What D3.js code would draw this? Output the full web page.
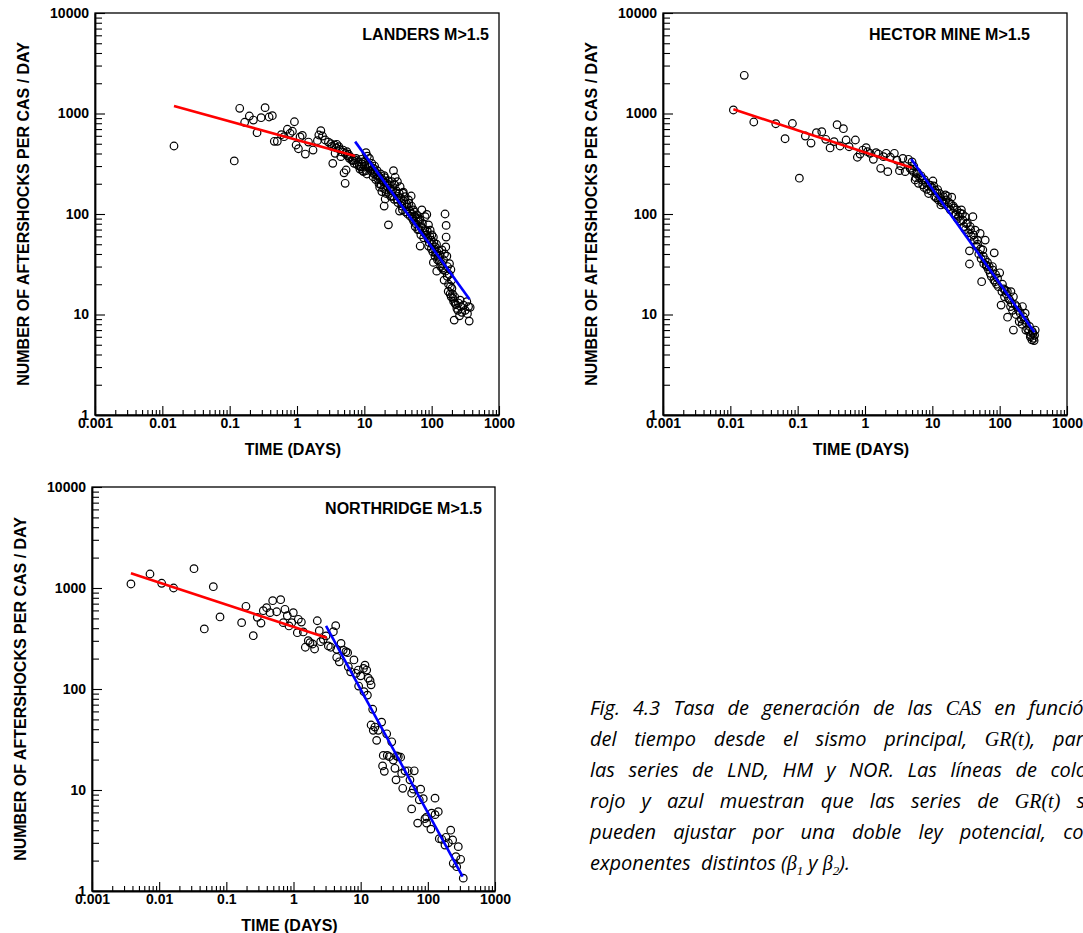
<!DOCTYPE html>
<html>
<head>
<meta charset="utf-8">
<script src="https://cdn.jsdelivr.net/npm/d3@7"></script>
<style>
  body { margin: 0; background: #fff; }
  svg { display: block; }
  .axis text { font-family: "Liberation Sans", Arial, sans-serif; font-weight: bold; font-size: 14px; fill: #000; }
  .axis path, .axis line { stroke: #000; }
  .axis-title, .panel-title { font-family: "Liberation Sans", Arial, sans-serif; font-weight: bold; font-size: 16px; }
  .caption { font-family: "Open Sans", sans-serif; font-style: italic; font-size: 20px; white-space: pre; }
  .caption .math { font-family: "Liberation Serif", "DejaVu Serif", serif; font-style: italic; }
</style>
</head>
<body>
<svg id="chart" width="1083" height="933"></svg>
<script>
// axis ticks shared by the three panels
const xTicks = [0.001, 0.01, 0.1, 1, 10, 100, 1000];
const xTickLabels = ["0.001", "0.01", "0.1", "1", "10", "100", "1000"];
const yTicks = [1, 10, 100, 1000, 10000];
const yTickLabels = ["1", "10", "100", "1000", "10000"];

// Landers M>1.5 : [time (days), aftershocks per CAS per day]
const landersPoints = [
  [0.0149, 475], [0.117, 337], [0.141, 1127], [0.167, 818], [0.196, 944], [0.225, 861], [0.255, 644],
  [0.293, 908], [0.336, 1143], [0.385, 923], [0.43, 951], [0.46, 529], [0.51, 529], [0.586, 615],
  [0.643, 588], [0.72, 697], [0.79, 635], [0.855, 666], [0.916, 828], [0.97, 486], [1.05, 446],
  [1.11, 584], [1.2, 606], [1.33, 395], [1.48, 520], [1.73, 433], [2.01, 537], [2.11, 611], [2.26, 674],
  [2.39, 597], [2.62, 545], [2.93, 520], [3.18, 500], [3.3, 470], [3.4, 319], [3.6, 486], [3.68, 402],
  [3.8, 455], [3.9, 494], [4.18, 467], [4.3, 440], [4.47, 372], [4.6, 415], [4.84, 433], [5.0, 257],
  [5.19, 202], [5.2, 400], [5.36, 274], [5.5, 417], [5.6, 380], [5.81, 393], [6.0, 358], [6.2, 370],
  [6.52, 344], [6.8, 340], [7.05, 319], [7.3, 345], [7.55, 358], [7.8, 310], [8.17, 331], [8.4, 300],
  [8.6, 280], [8.96, 295], [9.0, 350], [9.2, 315], [9.4, 270], [9.7, 331], [9.7, 264], [10.1, 300],
  [10.3, 330], [10.6, 408], [10.6, 270], [10.9, 250], [11.1, 377], [11.3, 310], [11.5, 290], [11.9, 358],
  [12.2, 300], [12.5, 270], [12.9, 319], [13.2, 260], [13.5, 235], [13.7, 284], [14, 250], [14.2, 300],
  [14.5, 264], [14.8, 220], [15.3, 244], [15.5, 270], [15.8, 225], [16.2, 240], [16.5, 200], [16.9, 185],
  [17.2, 226], [17.5, 250], [17.8, 195], [18.2, 167], [18.6, 220], [19, 210], [19.3, 180], [19.7, 241],
  [19.7, 120], [20.1, 230], [20.4, 141], [20.8, 175], [21.1, 160], [21.6, 202], [22, 190], [22.5, 215],
  [22.8, 78], [23, 160], [23.5, 195], [24.2, 180], [24.6, 150], [25, 170], [25.7, 210], [26, 150],
  [26.5, 175], [27.1, 270], [27.8, 140], [28.2, 195], [28.7, 232], [29.5, 160], [30, 170], [30.5, 140],
  [31.0, 210], [31.5, 130], [32, 150], [33, 160], [33.3, 107], [34.0, 187], [34.5, 145], [35.5, 130],
  [36, 120], [36.8, 110], [37.3, 161], [38, 165], [38.5, 135], [39.5, 125], [40.4, 149], [41, 105],
  [42, 118], [43, 125], [44, 100], [45.3, 138], [46, 128], [47, 108], [48, 95], [49.6, 151], [50, 120],
  [51, 100], [52, 90], [53.7, 110], [54, 85], [55, 105], [56, 95], [57, 75], [58, 80], [59, 92],
  [60.3, 98], [62, 70], [63, 85], [65, 70], [66, 90], [67.5, 87], [67.5, 48], [69, 62], [70, 75],
  [71.5, 110], [73, 80], [74, 72], [76, 58], [78, 65], [79, 70], [80, 94], [83, 62], [84.7, 99], [86, 68],
  [88, 57], [89.7, 78], [90, 48], [92, 52], [94, 60], [95, 69], [98, 55], [99, 45], [100.7, 62],
  [102, 50], [104, 42], [106, 59], [106, 33], [108, 52], [110, 45], [112, 38], [113, 47], [116, 40],
  [118, 50], [119, 42], [119, 27], [122, 35], [125, 38], [128, 43], [130, 34], [134, 39], [136, 30],
  [140, 32], [142, 44], [145, 29], [148, 28], [150, 35], [153, 22], [155, 40], [158, 100], [160, 27],
  [162, 47], [164, 77], [164, 59], [168, 38], [170, 24], [172, 30], [176, 17], [178, 20], [182, 25],
  [184, 32], [188, 16], [190, 19], [193, 28], [195, 15], [198, 22], [200, 18.2], [204, 16], [207, 14.5],
  [212, 13.5], [216, 8.8], [220, 15], [223, 12.9], [230, 12.5], [237, 11.5], [245, 11], [250, 13],
  [259, 9.7], [265, 13.9], [270, 12], [280, 10.5], [297, 12.4], [315, 11], [333, 13.4], [340, 10.2],
  [353, 12], [361, 8.6], [373, 11.8]
];
const landersFitEarly = [[0.0149, 1188], [7.3, 378]];
const landersFitLate = [[7.3, 525], [365, 14.2]];

// Hector Mine M>1.5
const hectorPoints = [
  [0.0111, 1084], [0.0161, 2400], [0.0223, 823], [0.0473, 791], [0.065, 561], [0.0836, 795], [0.106, 227],
  [0.13, 597], [0.158, 508], [0.19, 644], [0.228, 659], [0.261, 554], [0.303, 454], [0.347, 525],
  [0.385, 774], [0.426, 475], [0.478, 706], [0.524, 545], [0.58, 467], [0.72, 545], [0.77, 367],
  [0.845, 395], [0.927, 433], [1.04, 457], [1.09, 417], [1.19, 402], [1.33, 350], [1.46, 408],
  [1.58, 395], [1.71, 285], [1.88, 372], [2.06, 402], [2.18, 264], [2.38, 367], [2.73, 402], [2.97, 344],
  [3.25, 270], [3.4, 301], [3.65, 358], [3.95, 264], [4.42, 350], [4.68, 285], [4.95, 274], [5.0, 330],
  [5.24, 264], [5.3, 300], [5.55, 218], [5.7, 230], [5.8, 250], [6.0, 260], [6.22, 202], [6.5, 230],
  [6.8, 240], [6.98, 218], [7.2, 195], [7.55, 184], [7.6, 220], [8.0, 205], [8.28, 176], [8.5, 190],
  [8.8, 160], [9.28, 194], [9.5, 170], [9.8, 185], [10.2, 213], [10.5, 190], [10.8, 150], [11.0, 173],
  [11.4, 145], [11.7, 161], [12, 175], [12.3, 138], [12.8, 160], [13, 145], [13.4, 123], [13.9, 130],
  [14.2, 135], [14.6, 149], [15.2, 125], [15.6, 155], [16.0, 138], [16.8, 150], [17.3, 118], [17.8, 130],
  [18.5, 110], [19, 125], [19.4, 147], [20.5, 120], [21, 115], [21.8, 98], [22.5, 100], [23.1, 110],
  [23.6, 90], [24.5, 95], [25.9, 102], [26.5, 85], [27, 110], [28, 100], [28.4, 87], [29.5, 75],
  [30.7, 94], [31, 70], [32, 80], [33.2, 81], [34.5, 65], [35.6, 31.8], [35.6, 43], [36.5, 75], [37, 70],
  [38, 60], [40, 94], [41, 62], [42, 55], [43.3, 69], [45, 48], [46.9, 55], [47, 50], [49, 40],
  [51.3, 64], [52, 45], [53, 36], [54, 21.2], [56.2, 44], [57, 38], [58, 32], [61, 35], [61, 55],
  [63, 31], [64.6, 30], [66, 33], [68, 28], [70, 30], [72.3, 25.7], [75, 24], [78, 30], [79.2, 27.7],
  [82, 22], [83, 41], [85.8, 21.2], [87, 25], [90, 20], [93, 23], [96, 18.9], [100, 26], [105, 12.4],
  [108, 16.9], [110, 20], [115, 18], [118, 15], [121, 17.5], [125, 16], [130, 17], [131, 9.4], [135, 14.5],
  [140, 14], [145, 12], [147, 16.9], [150, 13], [155, 11], [160, 15], [160, 7.0], [170, 12.5], [175, 10],
  [180, 12], [190, 11], [195, 8.5], [202, 10.3], [210, 9], [215, 8], [218, 12], [226, 9.5], [235, 8.8],
  [239, 10.3], [245, 7], [248, 8.2], [260, 7.2], [270, 6.8], [277, 7.6], [285, 6], [290, 6.2], [301, 5.6],
  [305, 6.8], [311, 6.5], [320, 5.8], [325, 5.5], [330, 6.2], [337, 7.0]
];
const hectorFitEarly = [[0.0111, 1101], [4.96, 289]];
const hectorFitLate = [[4.84, 353], [329, 6.65]];

// Northridge M>1.5
const northridgePoints = [
  [0.0038, 1096], [0.0073, 1376], [0.0109, 1114], [0.0164, 1000], [0.033, 1553], [0.047, 393],
  [0.064, 1030], [0.0805, 517], [0.169, 454], [0.196, 659], [0.252, 337], [0.289, 513], [0.328, 450],
  [0.355, 596], [0.398, 638], [0.447, 570], [0.49, 749], [0.562, 582], [0.644, 766], [0.705, 454],
  [0.746, 615], [0.809, 532], [0.857, 421], [0.94, 454], [0.993, 570], [1.14, 361], [1.18, 490],
  [1.31, 460], [1.4, 367], [1.5, 259], [1.66, 301], [1.76, 288], [1.93, 279], [2.06, 249], [2.26, 474],
  [2.42, 378], [2.54, 294], [2.78, 310], [3.05, 335], [3.3, 267], [3.58, 259], [3.92, 369], [4.25, 424],
  [4.4, 247], [4.4, 206], [4.81, 186], [5.1, 283], [5.5, 243], [6.04, 234], [6.4, 229], [6.55, 166],
  [7.1, 148], [7.94, 194], [8.51, 143], [9.22, 154], [9.33, 107], [10, 135], [11, 160], [11.2, 94],
  [11.6, 172], [12.3, 154], [12.6, 87], [13, 128], [13.8, 121], [14.3, 110], [14.3, 44], [15.1, 63],
  [15.4, 39], [16.3, 42], [17.3, 31], [18.3, 39], [20.5, 47], [21.2, 17.3], [21.7, 22], [22.5, 15.3],
  [24.4, 36], [24.9, 22], [26.7, 21.4], [29, 30], [30.6, 19.8], [32.4, 16.4], [33.6, 12.6], [34.4, 21.7],
  [36.3, 21.4], [39.4, 21.1], [40.8, 14.6], [42.3, 10.4], [45.7, 15.5], [51.2, 15.5], [54.2, 12.6],
  [57.4, 9.3], [57.4, 6.5], [60.8, 10.2], [62.8, 15.5], [70.6, 4.7], [74.6, 8.0], [78.2, 10.2],
  [85.5, 8.2], [90.7, 5.2], [96, 5.4], [96, 4.7], [111, 4.1], [114, 5.9], [128, 5.7], [128, 8.3],
  [143, 6.1], [148, 3.3], [161, 3.25], [180, 2.85], [186, 3.4], [202, 3.0], [219, 4.0], [234, 3.2],
  [239, 1.88], [262, 2.19], [269, 1.74], [284, 2.75], [308, 2.06], [337, 1.34]
];
const northridgeFitEarly = [[0.0038, 1399], [3.12, 322]];
const northridgeFitLate = [[3.05, 421], [330, 1.39]];

// caption: [text, kind]  kind 0 = body, 1 = math, 2 = subscript
const captionLines = [
  [["Fig. 4.3 Tasa de generación de las ", 0], ["CAS", 1], [" en función", 0]],
  [["del tiempo desde el sismo principal, ", 0], ["GR(t)", 1], [", para", 0]],
  [["las series de LND, HM y NOR. Las líneas de color", 0]],
  [["rojo y azul muestran que las series de ", 0], ["GR(t)", 1], [" se", 0]],
  [["pueden ajustar por una doble ley potencial, con", 0]],
  [["exponentes  distintos (", 0], ["β", 1], ["1", 2], [" y ", 0], ["β", 1], ["2", 2], [").", 0]]
];

const panels = [
  { title: "LANDERS M>1.5", points: landersPoints, fits: [landersFitEarly, landersFitLate],
    left: 95, right: 499, top: 13, bottom: 415, titleX: 489 },
  { title: "HECTOR MINE M>1.5", points: hectorPoints, fits: [hectorFitEarly, hectorFitLate],
    left: 663, right: 1067, top: 13, bottom: 415, titleX: 1030 },
  { title: "NORTHRIDGE M>1.5", points: northridgePoints, fits: [northridgeFitEarly, northridgeFitLate],
    left: 92, right: 495, top: 487, bottom: 891, titleX: 482 }
];
const FIT_COLORS = ["#ff0000", "#0000ff"];

const svg = d3.select("#chart");
svg.append("rect").attr("width", 1083).attr("height", 933).attr("fill", "#fff");

panels.forEach(drawPanel);
drawCaption(590, 715, 31, 505);

function minorTicks(decades) {
  const ticks = [];
  for (let i = 0; i < decades.length - 1; i++) {
    for (let k = 2; k <= 9; k++) ticks.push(decades[i] * k);
  }
  return ticks;
}

function drawPanel(p) {
  const x = d3.scaleLog().domain([xTicks[0], xTicks[xTicks.length - 1]]).range([p.left, p.right]);
  const y = d3.scaleLog().domain([yTicks[0], yTicks[yTicks.length - 1]]).range([p.bottom, p.top]);
  const g = svg.append("g");

  g.append("rect")
    .attr("x", p.left).attr("y", p.top)
    .attr("width", p.right - p.left).attr("height", p.bottom - p.top)
    .attr("fill", "none").attr("stroke", "#000").attr("stroke-width", 1.3);

  // minor ticks first, then labelled decade ticks
  g.append("g").attr("class", "axis")
    .attr("transform", `translate(0,${p.bottom})`)
    .call(d3.axisBottom(x).tickValues(minorTicks(xTicks)).tickSize(-5).tickSizeOuter(0).tickFormat(""))
    .call((a) => a.select(".domain").remove());
  g.append("g").attr("class", "axis")
    .attr("transform", `translate(${p.left},0)`)
    .call(d3.axisLeft(y).tickValues(minorTicks(yTicks)).tickSize(-7).tickSizeOuter(0).tickFormat(""))
    .call((a) => a.select(".domain").remove());

  g.append("g").attr("class", "axis")
    .attr("transform", `translate(0,${p.bottom})`)
    .call(d3.axisBottom(x).tickValues(xTicks).tickSize(-9).tickSizeOuter(0).tickPadding(3)
      .tickFormat((d, i) => xTickLabels[i]))
    .call((a) => a.select(".domain").attr("stroke-width", 1.8));
  g.append("g").attr("class", "axis")
    .attr("transform", `translate(${p.left},0)`)
    .call(d3.axisLeft(y).tickValues(yTicks).tickSize(-10).tickSizeOuter(0).tickPadding(6)
      .tickFormat((d, i) => yTickLabels[i]))
    .call((a) => a.select(".domain").attr("stroke-width", 1.8));

  g.selectAll(".axis line").attr("stroke-width", 1.1);

  g.append("g")
    .selectAll("circle")
    .data(p.points)
    .join("circle")
    .attr("cx", (d) => x(d[0]))
    .attr("cy", (d) => y(d[1]))
    .attr("r", 3.8)
    .attr("fill", "none")
    .attr("stroke", "#000")
    .attr("stroke-width", 1.2);

  const line = d3.line().x((d) => x(d[0])).y((d) => y(d[1]));
  p.fits.forEach((fit, i) => {
    g.append("path")
      .attr("d", line(fit))
      .attr("fill", "none")
      .attr("stroke", FIT_COLORS[i])
      .attr("stroke-width", 2.6);
  });

  g.append("text")
    .attr("class", "panel-title")
    .attr("x", p.titleX).attr("y", p.top + 27)
    .attr("text-anchor", "end")
    .text(p.title);

  g.append("text")
    .attr("class", "axis-title")
    .attr("x", (p.left + p.right) / 2 - 4).attr("y", p.bottom + 40)
    .attr("text-anchor", "middle")
    .text("TIME (DAYS)");

  g.append("text")
    .attr("class", "axis-title")
    .attr("transform", `translate(${p.left - 66},${(p.top + p.bottom) / 2}) rotate(-90)`)
    .attr("text-anchor", "middle")
    .text("NUMBER OF AFTERSHOCKS PER CAS / DAY");
}

function drawCaption(x0, y0, lineStep, width) {
  captionLines.forEach((parts, i) => {
    const text = svg.append("text")
      .attr("class", "caption")
      .attr("x", x0).attr("y", y0 + i * lineStep);
    let prevKind = 0;
    parts.forEach(([str, kind]) => {
      const span = text.append("tspan").text(str);
      if (kind === 1) span.attr("class", "math");
      if (kind === 2) span.attr("class", "math").attr("font-size", 13).attr("dy", 5);
      else if (prevKind === 2) span.attr("dy", -5);
      prevKind = kind;
    });
    // justify every line except the last
    if (i < captionLines.length - 1) {
      const len = text.node().getComputedTextLength();
      const spaces = parts.map((q) => q[0]).join("").split(" ").length - 1;
      if (spaces > 0) text.attr("word-spacing", Math.max(0, (width - len) / spaces));
    }
  });
}
</script>
</body>
</html>
